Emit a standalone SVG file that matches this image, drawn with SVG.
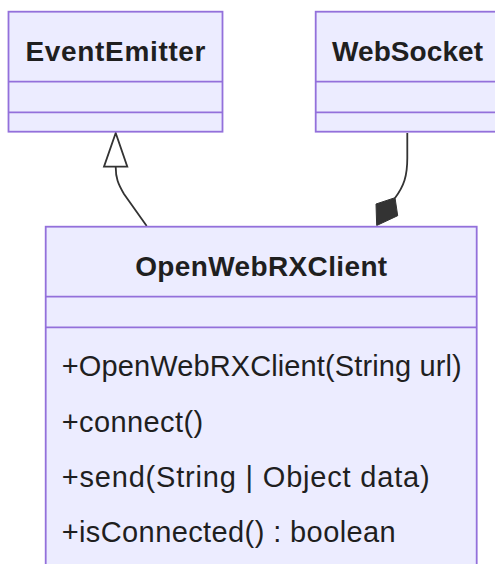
<svg xmlns="http://www.w3.org/2000/svg" width="495" height="564" viewBox="0 0 495 564">
  <style>
    .box { fill: #ECECFF; stroke: #9370DB; stroke-width: 1.8; }
    .sep { stroke: #9370DB; stroke-width: 1.8; }
    .title { font-family: "Liberation Sans", Arial, sans-serif; font-size: 28px; font-weight: bold; fill: #1f1f1f; text-anchor: middle; }
    .member { font-family: "Liberation Sans", Arial, sans-serif; font-size: 29px; fill: #1f1f1f; }
    .edge { fill: none; stroke: #333333; stroke-width: 1.8; }
  </style>
  <rect width="495" height="564" fill="#ffffff"/>

  <g id="connectors">
    <!-- OpenWebRXClient extends EventEmitter -->
    <path class="edge" d="M115.7,166.7 C115.7,178 118,184 124,194 L146.7,226"/>
    <polygon points="115.7,133 104,166.7 127.3,166.7" fill="#ffffff" stroke="#333333" stroke-width="1.8"/>
    <!-- OpenWebRXClient composes WebSocket -->
    <path class="edge" d="M407.3,133 L407.3,158 C407.3,176 404,186 395,198"/>
    <polygon points="376,204 395,197.7 397.7,215.7 376.7,225.5" fill="#333333" stroke="#333333" stroke-width="1"/>
  </g>

  <g id="EventEmitter">
    <rect class="box" x="8.5" y="11.7" width="214" height="120"/>
    <line class="sep" x1="8.5" y1="81.7" x2="222.5" y2="81.7"/>
    <line class="sep" x1="8.5" y1="112.3" x2="222.5" y2="112.3"/>
    <text class="title" x="115.5" y="61" textLength="180">EventEmitter</text>
  </g>

  <g id="WebSocket">
    <rect class="box" x="315.7" y="11.7" width="183.6" height="120"/>
    <line class="sep" x1="315.7" y1="81.7" x2="499.3" y2="81.7"/>
    <line class="sep" x1="315.7" y1="112.3" x2="499.3" y2="112.3"/>
    <text class="title" x="407.5" y="61" textLength="151">WebSocket</text>
  </g>

  <g id="OpenWebRXClient">
    <rect class="box" x="45.7" y="226.7" width="431" height="360"/>
    <line class="sep" x1="45.7" y1="296.7" x2="476.7" y2="296.7"/>
    <line class="sep" x1="45.7" y1="327.3" x2="476.7" y2="327.3"/>
    <text class="title" x="261.2" y="276" textLength="252">OpenWebRXClient</text>
    <text class="member" x="61.7" y="376" textLength="400">+OpenWebRXClient(String url)</text>
    <text class="member" x="61.7" y="431.5" textLength="141.5">+connect()</text>
    <text class="member" x="61.7" y="486.7" textLength="368">+send(String | Object data)</text>
    <text class="member" x="61.7" y="541.7" textLength="334">+isConnected() : boolean</text>
  </g>
</svg>
